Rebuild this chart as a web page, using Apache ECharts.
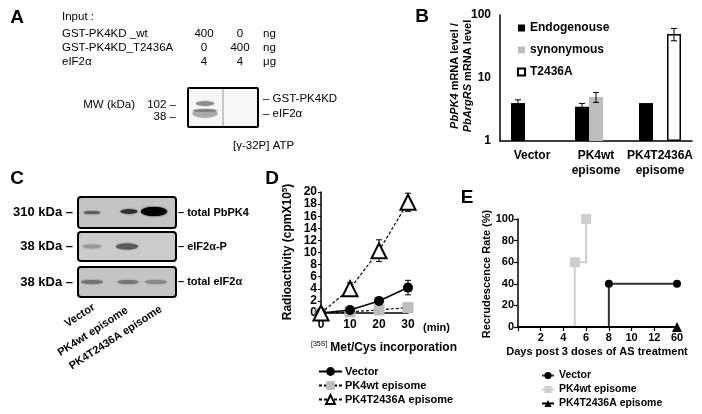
<!DOCTYPE html>
<html><head><meta charset="utf-8">
<script src="https://cdn.jsdelivr.net/npm/echarts@6/dist/echarts.min.js"></script>
<style>html,body{margin:0;padding:0;background:#fff}#c{width:702px;height:414px}</style>
</head><body><div id="c"></div>
<script>
// ---------- Panel B data ----------
const bCategories = ['Vector', 'PK4wt\nepisome', 'PK4T2436A\nepisome'];
const bEndogenous = [4.0, 3.5, 4.0];
const bEndogenousErr = [0.5, 0.45, 0];
const bSynonymous = [null, 5.0, null];
const bSynonymousErr = [null, 0.9, null];
const bT2436A = [null, null, 50];
const bT2436AErr = [null, null, 11];
const bTicks = [1, 10, 100];
// ---------- Panel D data ----------
const dTimes = [0, 10, 20, 30];
const dVector = [0, 0.5, 2.0, 4.2];
const dVectorErr = [0, 0.15, 0.3, 1.2];
const dPK4wt = [0, 0.2, 0.5, 0.9];
const dT2436A = [0, 4.0, 10.3, 18.3];
const dT2436AErr = [0, 1.0, 1.8, 1.5];
// ---------- Panel E data ----------
const eTickDays = [0, 2, 4, 6, 8, 10, 12, 60];
const eVectorDays = [0, 8, 60];
const eVectorRate = [0, 40, 40];
const ePK4wtDays = [0, 5, 6];
const ePK4wtRate = [0, 60, 100];
const eT2436ADays = [0, 60];
const eT2436ARate = [0, 0];
// ---------- Panel A / C text ----------
const aRows = [['GST-PK4KD _wt', '400', '0', 'ng'], ['GST-PK4KD_T2436A', '0', '400', 'ng'], ['eIF2α', '4', '4', 'μg']];
const cLanes = ['Vector', 'PK4wt episome', 'PK4T2436A episome'];
const cBlots = [['310 kDa –', '– total PbPK4'], ['38 kDa –', '– eIF2α-P'], ['38 kDa –', '– total eIF2α']];

const FAM = '"Liberation Sans", Arial, sans-serif';
const BAR_W = 14;

function dayToPos(d) {
  for (let i = 0; i < eTickDays.length - 1; i++) {
    const a = eTickDays[i], b = eTickDays[i + 1];
    if (d >= a && d <= b) return 2 * i + 2 * (d - a) / (b - a);
  }
  return 2 * (eTickDays.length - 1);
}

function errData(xs, ys, errs) {
  const out = [];
  xs.forEach((x, i) => {
    if (ys[i] == null || !errs[i]) return;
    out.push([x, ys[i] - errs[i], ys[i] + errs[i]]);
  });
  return out;
}
function errSeries(xi, yi, data, offsetPx, z, cap) {
  return {
    type: 'custom', xAxisIndex: xi, yAxisIndex: yi, z: z, silent: true, data: data,
    encode: { x: 0, y: [1, 2] },
    renderItem(params, api) {
      const x = api.value(0);
      const p1 = api.coord([x, api.value(2)]);
      const p2 = api.coord([x, api.value(1)]);
      const cx = p1[0] + offsetPx;
      const st = { stroke: '#000', lineWidth: 1 };
      return { type: 'group', children: [
        { type: 'line', shape: { x1: cx, y1: p1[1], x2: cx, y2: p2[1] }, style: st },
        { type: 'line', shape: { x1: cx - cap, y1: p1[1], x2: cx + cap, y2: p1[1] }, style: st },
        { type: 'line', shape: { x1: cx - cap, y1: p2[1], x2: cx + cap, y2: p2[1] }, style: st }
      ] };
    }
  };
}

function T(text, x, y, o) {
  o = o || {};
  const st = { text: text, fill: '#000', font: o.font || ('bold 11px ' + FAM), align: o.align || 'left', verticalAlign: o.va || 'middle' };
  if (o.rich) st.rich = o.rich;
  return { type: 'text', x: x, y: y, rotation: o.rot || 0, silent: true, z: 10, style: st };
}
function tok(size, weight, style, extra) {
  return Object.assign({ fontSize: size, fontWeight: weight, fontStyle: style, fontFamily: FAM, fill: '#000' }, extra || {});
}
function band(cx, cy, rx, ry, color, blur) {
  return { type: 'ellipse', silent: true, z: 6, shape: { cx: cx, cy: cy, rx: rx, ry: ry },
    style: { fill: color, shadowBlur: blur == null ? 2 : blur, shadowColor: color } };
}

const graphic = [];
// panel letters
[['A', 17, 18], ['B', 422, 17], ['C', 17, 179], ['D', 272, 179], ['E', 467, 198]].forEach(p =>
  graphic.push(T(p[0], p[1], p[2], { font: 'bold 19px ' + FAM, align: 'center' })));

// ---- Panel A ----
const NF = '11.5px ' + FAM;
graphic.push(T('Input :', 62, 17, { font: NF }));
aRows.forEach((r, i) => {
  const y = 34 + i * 14;
  graphic.push(T(r[0], 62, y, { font: NF }));
  graphic.push(T(r[1], 204, y, { font: NF, align: 'center' }));
  graphic.push(T(r[2], 240, y, { font: NF, align: 'center' }));
  graphic.push(T(r[3], 263, y, { font: NF }));
});
graphic.push({ type: 'rect', silent: true, z: 5, shape: { x: 188, y: 88, width: 70, height: 39, r: 1 }, style: { fill: '#f6f6f6', stroke: '#000', lineWidth: 2 } });
graphic.push({ type: 'line', silent: true, z: 6, shape: { x1: 223, y1: 89, x2: 223, y2: 126 }, style: { stroke: '#9a9a9a', lineWidth: 1 } });
graphic.push(band(205, 103.5, 9, 2.2, '#8c8c8c', 2));
graphic.push(band(205, 113.5, 12.5, 4, '#a9a9a9', 2));
graphic.push(band(205, 110.5, 12, 1.3, '#7e7e7e', 1));
graphic.push(T('MW (kDa)', 135, 105, { font: NF, align: 'right' }));
graphic.push(T('102 –', 176, 105, { font: NF, align: 'right' }));
graphic.push(T('38 –', 176, 117, { font: NF, align: 'right' }));
graphic.push(T('– GST-PK4KD', 263, 99, { font: NF }));
graphic.push(T('– eIF2α', 263, 114, { font: NF }));
graphic.push(T('[γ-32P] ATP', 233, 146, { font: NF }));

// ---- Panel C ----
const boxY = [197, 232, 267];
const boxH = [31, 29, 30];
boxY.forEach((y, i) => {
  graphic.push({ type: 'rect', silent: true, z: 5, shape: { x: 78, y: y, width: 98, height: boxH[i], r: 3 }, style: { fill: i === 1 ? '#cbcbcb' : '#c4c4c4', stroke: '#000', lineWidth: 2 } });
  const cy = y + boxH[i] / 2;
  graphic.push(T(cBlots[i][0], 73, cy, { font: 'bold 13px ' + FAM, align: 'right' }));
  graphic.push(T(cBlots[i][1], 178, cy, { font: 'bold 11px ' + FAM }));
});
// blot 1 bands
graphic.push(band(92, 212.5, 8.5, 1.6, '#5c5c5c', 2));
graphic.push(band(129, 211.5, 8.5, 2.2, '#2e2e2e', 2));
graphic.push(band(154, 211.5, 13, 4.5, '#000', 2));
// blot 2 bands
graphic.push(band(92, 246.5, 9.5, 2, '#9a9a9a', 2));
graphic.push(band(127, 246.5, 11, 3, '#5a5a5a', 2));
// blot 3 bands
graphic.push(band(92, 282, 11, 2, '#737373', 2));
graphic.push(band(128, 282, 10.5, 2, '#787878', 2));
graphic.push(band(156, 282, 11, 2, '#888', 2));
// lane labels (rotated)
const laneEnds = [[97, 311], [130, 314], [164, 313]];
cLanes.forEach((t, i) => graphic.push(T(t, laneEnds[i][0], laneEnds[i][1], { align: 'right', va: 'bottom', rot: 33 * Math.PI / 180, font: 'bold 11px ' + FAM })));

// ---- Panel B extra text ----
const itB = tok(11, 'bold', 'italic');
graphic.push(T('{i|PbPK4} mRNA level /', 455, 76, { align: 'center', rot: Math.PI / 2, rich: { i: itB }, font: 'bold 11px ' + FAM }));
graphic.push(T('{i|PbArgRS} mRNA level', 468, 76, { align: 'center', rot: Math.PI / 2, rich: { i: itB }, font: 'bold 11px ' + FAM }));

// ---- Panel D extra text ----
graphic.push(T('Radioactivity (cpmX10{s|5})', 288, 252, { align: 'center', rot: Math.PI / 2, font: 'bold 12px ' + FAM, rich: { s: tok(8, 'bold', 'normal', { verticalAlign: 'top', padding: [0, 0, 6, 0] }) } }));
graphic.push(T('(min)', 423, 328, { font: 'bold 11px ' + FAM }));
graphic.push(T('{s|[35S]}Met/Cys incorporation', 311, 348, { font: 'bold 12px ' + FAM, rich: { s: tok(7, 'normal', 'normal', { padding: [0, 3, 7, 0] }) } }));

// ---- Panel E extra text ----
graphic.push(T('Recrudescence Rate (%)', 487, 274, { align: 'center', rot: Math.PI / 2, font: 'bold 11px ' + FAM }));
graphic.push(T('Days post 3 doses of AS treatment', 597, 352, { align: 'center', font: 'bold 11px ' + FAM }));

const axisLine = { show: true, lineStyle: { color: '#000', width: 1.5 } };
const lab = (size, extra) => Object.assign({ color: '#000', fontWeight: 'bold', fontSize: size, fontFamily: FAM }, extra || {});

const eData = (days, rates) => days.map((d, i) => ({ value: [dayToPos(d), rates[i]], symbol: d === 0 ? 'none' : undefined }));

const option = {
  animation: false,
  backgroundColor: '#fff',
  textStyle: { fontFamily: FAM },
  grid: [
    { left: 500, top: 15, width: 192, height: 126 },
    { left: 321, top: 192, width: 87, height: 121 },
    { left: 518, top: 219, width: 159, height: 108 }
  ],
  xAxis: [
    { gridIndex: 0, type: 'category', data: bCategories, axisLine: axisLine, axisTick: { show: false },
      axisLabel: lab(12, { margin: 7, lineHeight: 15, interval: 0 }) },
    { gridIndex: 1, type: 'value', min: 0, max: 30, interval: 10, axisLine: axisLine, axisTick: { show: false },
      splitLine: { show: false }, axisLabel: lab(12, { margin: 6 }) },
    { gridIndex: 2, type: 'value', min: 0, max: 2 * (eTickDays.length - 1), interval: 2, z: 5, axisLine: axisLine,
      axisTick: { show: true, length: 4, lineStyle: { color: '#000', width: 1.2 } }, splitLine: { show: false },
      axisLabel: lab(11, { margin: 5, formatter: v => (v === 0 ? '' : String(eTickDays[Math.round(v / 2)])) }) }
  ],
  yAxis: [
    { gridIndex: 0, type: 'log', logBase: 10, min: bTicks[0], max: bTicks[bTicks.length - 1], axisLine: axisLine,
      axisTick: { show: false }, splitLine: { show: false }, minorTick: { show: false }, axisLabel: lab(12, { margin: 9 }) },
    { gridIndex: 1, type: 'value', min: 0, max: 20, interval: 2, axisLine: axisLine,
      axisTick: { show: true, length: 3, lineStyle: { color: '#000' } }, splitLine: { show: false }, axisLabel: lab(12, { margin: 4 }) },
    { gridIndex: 2, type: 'value', min: 0, max: 100, interval: 20, z: 5, axisLine: axisLine,
      axisTick: { show: true, length: 4, lineStyle: { color: '#000', width: 1.2 } }, splitLine: { show: false }, axisLabel: lab(11, { margin: 4 }) }
  ],
  legend: [
    { data: ['Endogenouse', 'synonymous', 'T2436A'], orient: 'vertical', left: 512, top: 17, itemWidth: 7, itemHeight: 7,
      itemGap: 10, icon: 'rect', textStyle: lab(12), selectedMode: false },
    { data: ['Vector', 'PK4wt episome', 'PK4T2436A episome'], orient: 'vertical', left: 313, top: 361, itemWidth: 23, itemHeight: 11,
      itemGap: 3, textStyle: lab(11, { padding: [0, 0, 0, -2] }), selectedMode: false },
    { data: ['E:Vector', 'E:PK4wt episome', 'E:PK4T2436A episome'], orient: 'vertical', left: 536, top: 365, itemWidth: 12, itemHeight: 9,
      itemGap: 3, textStyle: lab(10.5), formatter: n => n.replace('E:', ''), selectedMode: false }
  ],
  series: [
    // Panel B bars
    { name: 'Endogenouse', type: 'bar', xAxisIndex: 0, yAxisIndex: 0, barWidth: BAR_W, barGap: '0%',
      data: bEndogenous.map(v => (v == null ? '-' : v)), itemStyle: { color: '#000' } },
    { name: 'synonymous', type: 'bar', xAxisIndex: 0, yAxisIndex: 0, barWidth: BAR_W, barGap: '0%',
      data: bSynonymous.map(v => (v == null ? '-' : v)), itemStyle: { color: '#bdbdbd' } },
    { name: 'T2436A', type: 'bar', xAxisIndex: 0, yAxisIndex: 0, barWidth: BAR_W, barGap: '0%',
      data: bT2436A.map(v => (v == null ? '-' : v)), itemStyle: { color: '#fff', borderColor: '#000', borderWidth: 1.5 } },
    errSeries(0, 0, errData([0, 1, 2], bEndogenous, bEndogenousErr), -BAR_W, 4, 3),
    errSeries(0, 0, errData([0, 1, 2], bSynonymous, bSynonymousErr), 0, 4, 3),
    errSeries(0, 0, errData([0, 1, 2], bT2436A, bT2436AErr), BAR_W, 4, 3),
    // Panel D lines
    errSeries(1, 1, errData(dTimes, dVector, dVectorErr), 0, 1, 3),
    errSeries(1, 1, errData(dTimes, dT2436A, dT2436AErr), 0, 1, 3),
    { name: 'PK4wt episome', type: 'line', xAxisIndex: 1, yAxisIndex: 1, z: 2, data: dTimes.map((t, i) => [t, dPK4wt[i]]),
      symbol: 'rect', symbolSize: 11, lineStyle: { color: '#000', width: 1.2, type: [3, 2] }, itemStyle: { color: '#bdbdbd' } },
    { name: 'Vector', type: 'line', xAxisIndex: 1, yAxisIndex: 1, z: 3, data: dTimes.map((t, i) => [t, dVector[i]]),
      symbol: 'circle', symbolSize: 10, lineStyle: { color: '#000', width: 1.6 }, itemStyle: { color: '#000' } },
    { name: 'PK4T2436A episome', type: 'line', xAxisIndex: 1, yAxisIndex: 1, z: 4, data: dTimes.map((t, i) => [t, dT2436A[i]]),
      symbol: 'triangle', symbolSize: 15, lineStyle: { color: '#000', width: 1.2, type: [3, 2] },
      itemStyle: { color: '#fff', borderColor: '#000', borderWidth: 2 } },
    // Panel E step curves
    { name: 'E:PK4wt episome', type: 'line', xAxisIndex: 2, yAxisIndex: 2, step: 'end', z: 2, data: eData(ePK4wtDays, ePK4wtRate),
      symbol: 'rect', symbolSize: 10, lineStyle: { color: '#cfcfcf', width: 2 }, itemStyle: { color: '#cfcfcf' } },
    { name: 'E:Vector', type: 'line', xAxisIndex: 2, yAxisIndex: 2, step: 'end', z: 3, data: eData(eVectorDays, eVectorRate),
      symbol: 'circle', symbolSize: 8, lineStyle: { color: '#333', width: 2 }, itemStyle: { color: '#000' } },
    { name: 'E:PK4T2436A episome', type: 'line', xAxisIndex: 2, yAxisIndex: 2, step: 'end', z: 4, data: eData(eT2436ADays, eT2436ARate),
      symbol: 'triangle', symbolSize: 10, lineStyle: { color: '#000', width: 2 }, itemStyle: { color: '#000' } }
  ],
  graphic: graphic
};
const chart = echarts.init(document.getElementById('c'), null, { renderer: 'canvas', width: 702, height: 414 });
chart.setOption(option);
</script></body></html>
